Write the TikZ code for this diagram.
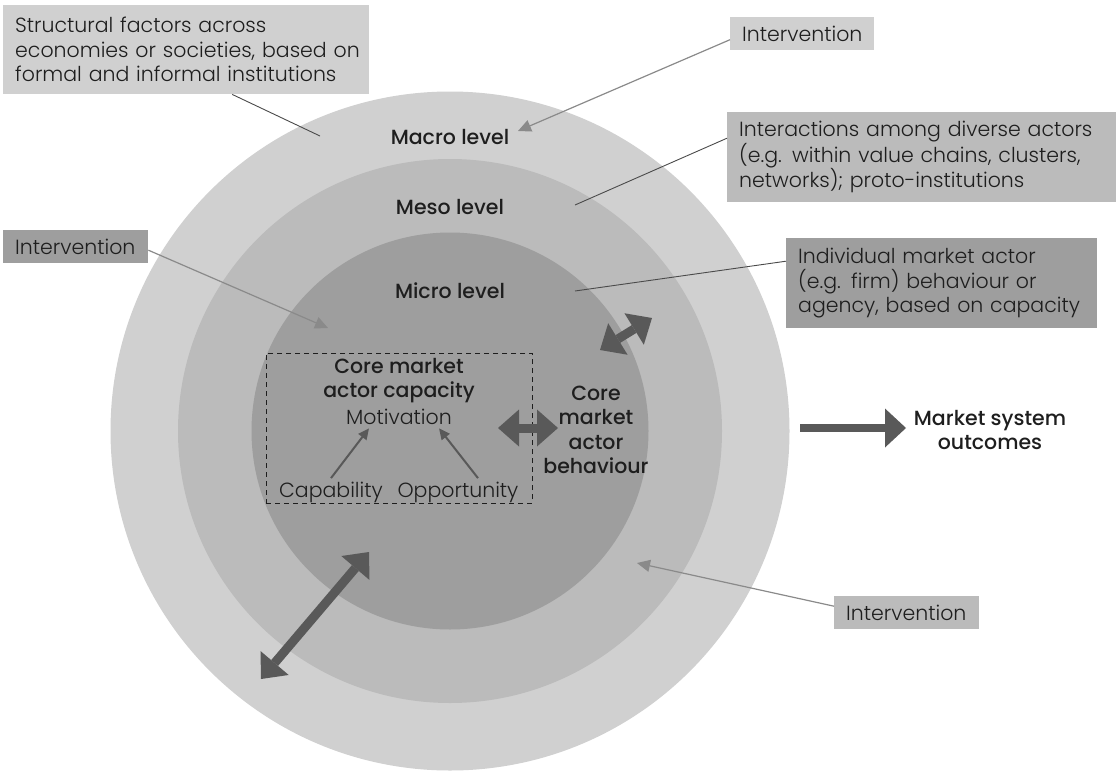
\documentclass[tikz,border=0pt]{standalone}
\usepackage{fontspec}
\setmainfont{Poppins}[UprightFont = * Light, BoldFont = * Medium]
\usetikzlibrary{arrows.meta}

\definecolor{ringouter}{HTML}{D0D0D0}
\definecolor{ringmiddle}{HTML}{BBBBBB}
\definecolor{ringinner}{HTML}{9E9E9E}
\definecolor{arrowdark}{HTML}{595959}
\definecolor{pointergray}{HTML}{8A8A8A}
\definecolor{leadergray}{HTML}{4A4A4A}
\definecolor{textblack}{HTML}{1E1E1E}

\begin{document}
\begin{tikzpicture}[x = 1pt, y = -1pt, font = \fontsize{20.5}{24.5}\selectfont, text = textblack,
	infobox/.style = {fill = #1, anchor = north west, align = left, inner xsep = 12pt, inner ysep = 0pt},
	levellabel/.style = {font = \fontsize{20.5}{24.5}\selectfont\bfseries, align = center},
	leader/.style = {leadergray, line width = 0.9pt},
	pointer/.style = {pointergray, line width = 1.2pt, -{Triangle[length = 13pt, width = 12pt]}},
	capfeed/.style = {arrowdark, line width = 2pt, -{Triangle[length = 11pt, width = 10pt]}},
	fatarrow/.style = {arrowdark, line width = 9pt,
		{Triangle[length = 21pt, width = 37pt, line width = 0pt]}-{Triangle[length = 21pt, width = 37pt, line width = 0pt]}}]

	\useasboundingbox (0, 0) rectangle (1119, 771);

	% Definitions

	\def\cx{450}		% Centre of the rings
	\def\cy{431}

	% Draw rings

	\fill [ringouter] (\cx, \cy) circle [radius = 339.5pt];
	\fill [ringmiddle] (\cx, \cy) circle [radius = 272pt];
	\fill [ringinner] (\cx, \cy) circle [radius = 198.5pt];

	% Level labels

	\node [levellabel] (macro) at (\cx, 137) {Macro level};
	\node [levellabel] (meso) at (\cx, 207) {Meso level};
	\node [levellabel] (micro) at (\cx, 291) {Micro level};

	% Description boxes

	\node [infobox = ringouter, minimum width = 366pt, minimum height = 89pt, text width = 342pt]
		(structural) at (3, 5) {\mbox{Structural factors across}\\\mbox{economies or societies, based on}\\\mbox{formal and informal institutions}};
	\node [infobox = ringmiddle, minimum width = 389pt, minimum height = 90pt, text width = 365pt]
		(interactions) at (727, 112) {Interactions among diverse actors\\(e.g. within value chains, clusters,\\networks); proto-institutions};
	\node [infobox = ringinner, minimum width = 311pt, minimum height = 90pt, text width = 287pt]
		(individual) at (786, 238) {Individual market actor\\(e.g. firm) behaviour or\\agency, based on capacity};

	% Intervention boxes

	\node [infobox = ringouter, minimum width = 144pt, minimum height = 33pt, text width = 120pt]
		(intertop) at (730, 17) {Intervention};
	\node [infobox = ringinner, minimum width = 145pt, minimum height = 33pt, text width = 121pt]
		(interleft) at (3, 230) {Intervention};
	\node [infobox = ringmiddle, minimum width = 145pt, minimum height = 33pt, text width = 121pt]
		(interbottom) at (834, 596) {Intervention};

	% Leader lines and pointers

	\coordinate (structend) at (320, 136);
	\coordinate (interactend) at (575, 205);
	\coordinate (individend) at (575, 291);
	\coordinate (macrotip) at (518, 131);
	\coordinate (microtip) at (328, 328);
	\coordinate (mesotip) at (637, 563);

	\draw [leader] ([xshift = 46pt] structural.south) -- (structend);
	\draw [leader] ([yshift = 19pt] interactions.west) -- (interactend);
	\draw [leader] ([yshift = 22pt] individual.west) -- (individend);

	\draw [pointer] ([yshift = -6pt] intertop.west) -- (macrotip);
	\draw [pointer] ([yshift = -3.5pt] interleft.east) -- (microtip);
	\draw [pointer] ([yshift = 6.5pt] interbottom.west) -- (mesotip);

	% Core market actor capacity

	\node [draw = textblack, dash pattern = on 5pt off 4pt, line width = 0.9pt,
		minimum width = 266pt, minimum height = 150pt] (capbox) at (399, 428) {};
	\node [levellabel] (capname) at (399, 380.5) {Core market\\actor capacity};
	\node (motivation) at (399, 417) {Motivation};
	\node (capability) at (331, 492) {Capability};
	\node (opportunity) at (458, 492) {Opportunity};

	\draw [capfeed] (capability.north) -- ([xshift = -30pt] motivation.south);
	\draw [capfeed] ([xshift = 20pt] opportunity.north) -- ([xshift = 40pt] motivation.south);

	% Core market actor behaviour

	\node [levellabel] (behaviour) at (596, 430) {Core\\market\\actor\\behaviour};

	% Fat double arrows

	\coordinate (capleft) at (498, 428);
	\coordinate (capright) at (558, 428);
	\coordinate (microout) at (600, 350);
	\coordinate (mesoin) at (652, 318);
	\coordinate (outerin) at (261, 679);
	\coordinate (microin) at (369, 552);

	\draw [fatarrow] (capleft) -- (capright);
	\draw [fatarrow] (microout) -- (mesoin);
	\draw [fatarrow] (outerin) -- (microin);

	% Outcomes

	\node [levellabel] (outcomes) at (990, 430) {Market system\\outcomes};
	\coordinate (outstart) at (800, 428);
	\coordinate (outtip) at (906, 428);

	\draw [arrowdark, line width = 8pt, -{Triangle[length = 21pt, width = 39pt, line width = 0pt]}] (outstart) -- (outtip);

\end{tikzpicture}
\end{document}
